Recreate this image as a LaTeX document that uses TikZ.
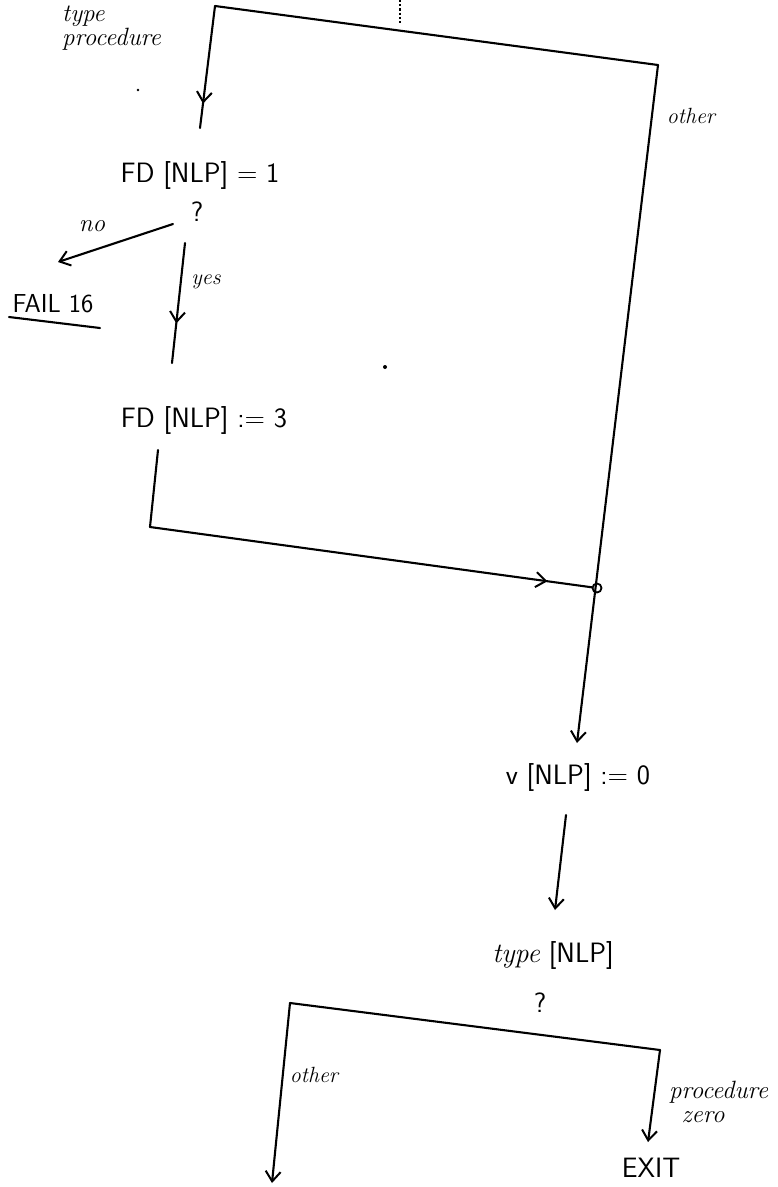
\documentclass[tikz,border=0pt]{standalone}
\usetikzlibrary{arrows.meta,decorations.markings}
\begin{document}
\begin{tikzpicture}[x=1pt,y=-1pt,
  wire/.style={line width=2.1pt, line cap=round, line join=round},
  barb/.style={-{Straight Barb[length=10pt,width=15pt,line width=2pt]}},
  arr/.style={wire, barb},
  midarr/.style={wire, decoration={markings, mark=at position #1 with {\arrow{Straight Barb[length=10pt,width=15pt,line width=2pt]}}}, postaction={decorate}},
  formula/.style={inner sep=0pt, font=\fontsize{28}{32}\selectfont\sffamily},
  word/.style={inner sep=0pt, font=\fontsize{25}{28}\selectfont\itshape, align=left},
]
\useasboundingbox (0,0) rectangle (778,1187);

% coordinates
\coordinate (top) at (400,0);
\coordinate (topbar) at (400,24);
\coordinate (tl) at (215,6);
\coordinate (tr) at (658,65);
\coordinate (l1) at (200,128);
\coordinate (noS) at (173,224);
\coordinate (noE) at (58,262);
\coordinate (yesS) at (185,243);
\coordinate (yesE) at (172,363);
\coordinate (ul1) at (9,317);
\coordinate (ul2) at (100,328);
\coordinate (l2top) at (158,450);
\coordinate (bl) at (150,527);
\coordinate (vtip) at (577,743);
\coordinate (vS) at (566,815);
\coordinate (tTip) at (555,910);
\coordinate (b2l) at (290,1003);
\coordinate (b2r) at (660,1050);
\coordinate (otip) at (272,1183);
\coordinate (etip) at (648,1142);

% text nodes
\node[word, anchor=north west] (typeproc) at (62,6) {type\\[-4pt]procedure};
\node[word, font=\fontsize{22}{24}\selectfont\itshape] (other1) at (691,116) {other};
\node[formula] (fd1) at (200,175) {FD [NLP] = 1};
\node[formula] (q1) at (197,212) {?};
\node[word] (no) at (92,226) {no};
\node[formula, font=\fontsize{26}{30}\selectfont\sffamily] (fail) at (53,304) {FAIL 16};
\node[word, font=\fontsize{22}{24}\selectfont\itshape] (yes) at (206,282) {yes};
\node[formula] (fd3) at (204,420) {FD [NLP] := 3};
\node[circle, draw, line width=1.8pt, minimum size=9pt, inner sep=0pt] (junc) at (597,588) {};
\node[formula] (vn) at (578,777) {v [NLP] := 0};
\node[formula] (typen) at (553,955) {\rmfamily\itshape type\/\upshape\sffamily{} [NLP]};
\node[formula] (q2) at (540,1003) {?};
\node[word, font=\fontsize{22}{24}\selectfont\itshape] (other2) at (314,1075) {other};
\node[word, anchor=north west] (proczero) at (669,1081) {procedure\\[-4pt]\hspace*{0.5em}zero};
\node[formula] (exit) at (651,1168) {EXIT};

% connectors
\draw[dotted, line width=2.2pt] (top) -- (topbar);
\draw[wire] (tl) -- (tr);
\draw[midarr=0.8] (tl) -- (l1);
\draw[arr] (tr) -- (vtip);
\draw[arr] (noS) -- (noE);
\draw[midarr=0.67] (yesS) -- (yesE);
\draw[wire] (ul1) -- (ul2);
\draw[wire] (l2top) -- (bl);
\draw[midarr=0.9] (bl) -- (junc);
\draw[arr] (vS) -- (tTip);
\draw[wire] (b2l) -- (b2r);
\draw[arr] (b2l) -- (otip);
\draw[arr] (b2r) -- (etip);

% stray marks on the sheet
\fill (385,367) circle (2pt);
\fill (138,90) circle (1.3pt);
\end{tikzpicture}
\end{document}
